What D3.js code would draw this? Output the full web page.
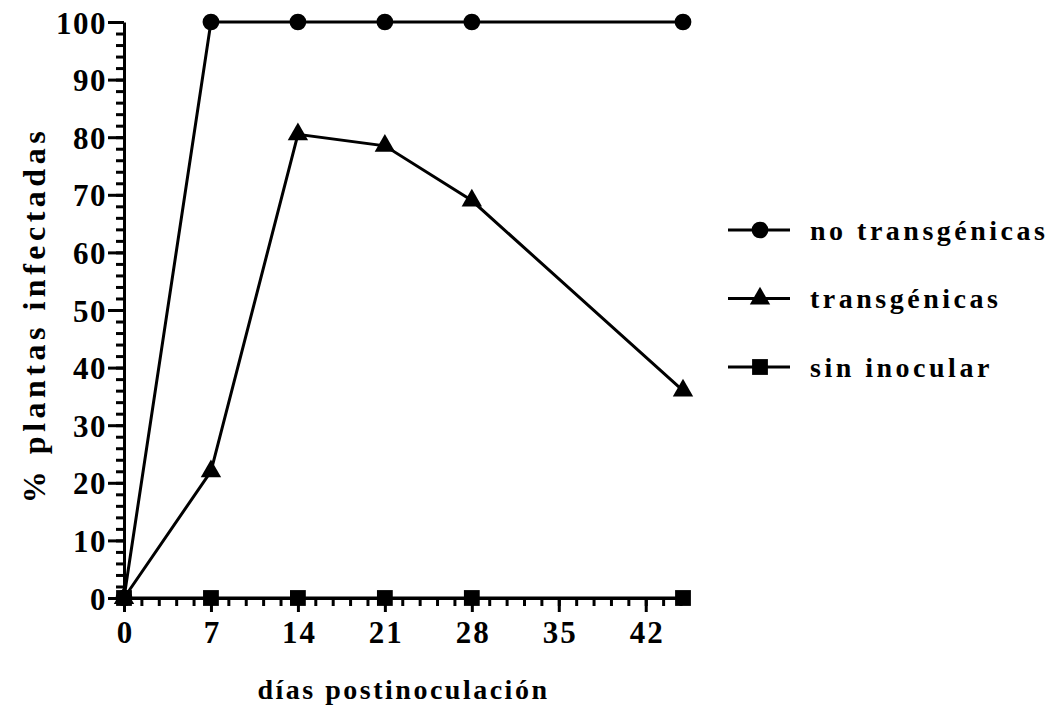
<!DOCTYPE html>
<html>
<head>
<meta charset="utf-8">
<script src="https://cdn.jsdelivr.net/npm/d3@7"></script>
<style>
  body { margin: 0; background: #fff; }
  svg text { font-family: "Liberation Serif", "Times New Roman", serif; font-weight: bold; fill: #000; }
</style>
</head>
<body>
<div id="chart"></div>
<script>
// data
var days = [0, 7, 14, 21, 28, 45];
var noTransgenicas = [0, 100, 100, 100, 100, 100];
var transgenicas = [0, 22, 80.5, 78.5, 69, 36];
var sinInocular = [0, 0, 0, 0, 0, 0];
var xTicks = [0, 7, 14, 21, 28, 35, 42];
var yTicks = [0, 10, 20, 30, 40, 50, 60, 70, 80, 90, 100];
var seriesNames = ["no transgénicas", "transgénicas", "sin inocular"];
var seriesShapes = ["circle", "triangle", "square"];

var width = 1055, height = 707;
var margin = { top: 22, left: 124 };
var plotW = 683 - margin.left, plotH = 598 - margin.top;

var svg = d3.select("#chart").append("svg")
    .attr("width", width)
    .attr("height", height);

var x = d3.scaleLinear().domain([0, 45]).range([0, plotW]);
var y = d3.scaleLinear().domain([0, 100]).range([plotH, 0]);

var g = svg.append("g")
    .attr("transform", "translate(" + margin.left + "," + margin.top + ")");

// minor ticks
var xMinor = [];
for (var i = 0; i < 45; i += 1.4) xMinor.push(+i.toFixed(2));
var yMinor = d3.range(0, 101, 2);

g.append("g")
    .attr("transform", "translate(0," + plotH + ")")
    .call(d3.axisBottom(x).tickValues(xMinor).tickSize(8).tickFormat("").tickSizeOuter(0))
    .call(a => a.select(".domain").remove())
    .selectAll("line").attr("stroke-width", 3);

g.append("g")
    .call(d3.axisLeft(y).tickValues(yMinor).tickSize(8).tickFormat("").tickSizeOuter(0))
    .call(a => a.select(".domain").remove())
    .selectAll("line").attr("stroke-width", 3);

var xAxis = g.append("g")
    .attr("transform", "translate(0," + plotH + ")")
    .call(d3.axisBottom(x).tickValues(xTicks).tickSize(14).tickPadding(9).tickSizeOuter(0));
xAxis.select(".domain").attr("stroke-width", 3);
xAxis.selectAll("line").attr("stroke-width", 3);
xAxis.selectAll("text").style("font-size", "31px").style("letter-spacing", "2px").attr("dx", "1px");

var yAxis = g.append("g")
    .call(d3.axisLeft(y).tickValues(yTicks).tickSize(16).tickPadding(1).tickSizeOuter(0));
yAxis.select(".domain").attr("stroke-width", 3);
yAxis.selectAll("line").attr("stroke-width", 3);
yAxis.selectAll("text").style("font-size", "31px").style("letter-spacing", "1.5px").attr("dy", "0.36em");

// lines
var series = [noTransgenicas, transgenicas, sinInocular];
var line = d3.line()
    .x(function (d, i) { return x(days[i]); })
    .y(function (d) { return y(d); });

series.forEach(function (s) {
    g.append("path")
        .datum(s)
        .attr("d", line)
        .attr("fill", "none")
        .attr("stroke", "#000")
        .attr("stroke-width", 3);
});

var symbolFor = {
    circle: d3.symbol().type(d3.symbolCircle).size(220),
    triangle: d3.symbol().type(d3.symbolTriangle).size(180),
    square: d3.symbol().type(d3.symbolSquare).size(250)
};

series.forEach(function (s, k) {
    g.selectAll(".pt" + k)
        .data(s)
        .enter().append("path")
        .attr("class", "pt" + k)
        .attr("d", symbolFor[seriesShapes[k]]())
        .attr("transform", function (d, i) { return "translate(" + x(days[i]) + "," + y(d) + ")"; })
        .attr("fill", "#000");
});

// axis titles
svg.append("text")
    .attr("x", margin.left + x(22.5))
    .attr("y", 699)
    .attr("text-anchor", "middle")
    .style("font-size", "28px")
    .style("letter-spacing", "2.5px")
    .text("días postinoculación");

svg.append("text")
    .attr("transform", "translate(45,315) rotate(-90)")
    .attr("text-anchor", "middle")
    .style("font-size", "32px")
    .style("letter-spacing", "4.5px")
    .text("% plantas infectadas");

// legend
var legend = svg.append("g").attr("transform", "translate(728,230)");
seriesNames.forEach(function (name, k) {
    var row = legend.append("g").attr("transform", "translate(0," + (k * 68.5) + ")");
    row.append("line")
        .attr("x1", 0).attr("x2", 62)
        .attr("stroke", "#000").attr("stroke-width", 3);
    row.append("path")
        .attr("d", symbolFor[seriesShapes[k]]())
        .attr("transform", "translate(32,0)")
        .attr("fill", "#000");
    row.append("text")
        .attr("x", 82)
        .attr("dy", "0.35em")
        .style("font-size", "28px")
        .style("letter-spacing", "3.5px")
        .text(name);
});
</script>
</body>
</html>
